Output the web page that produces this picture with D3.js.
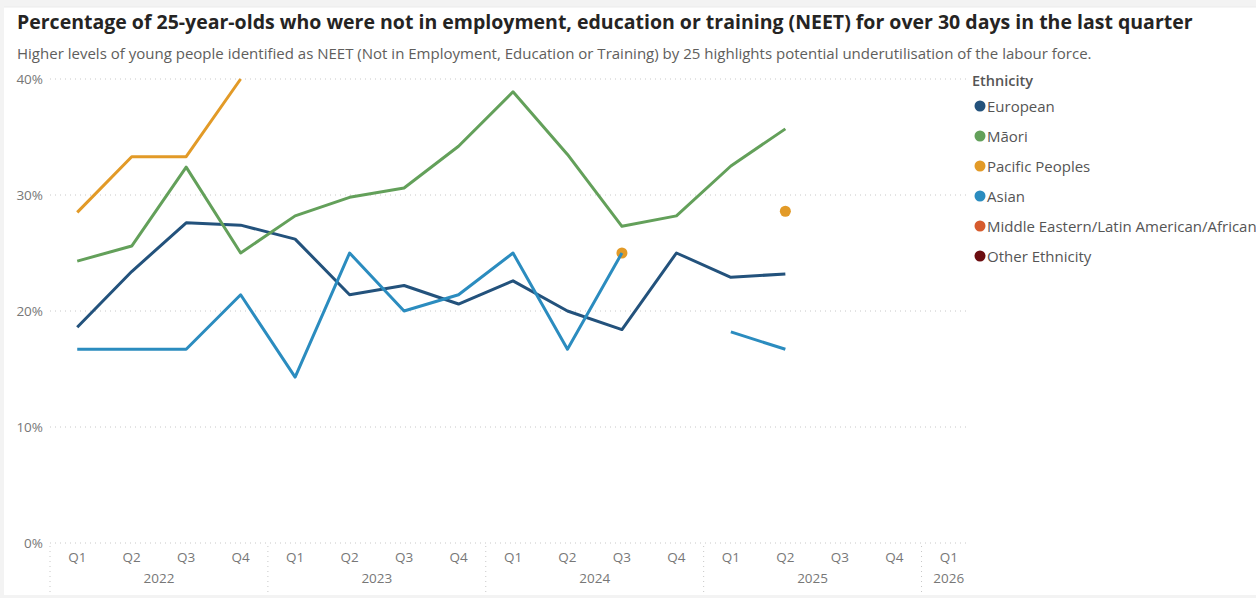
<!DOCTYPE html>
<html>
<head>
<meta charset="utf-8">
<script src="https://cdn.jsdelivr.net/npm/d3@7"></script>
<style>
  html, body { margin: 0; padding: 0; background: #f3f3f3; }
  svg { display: block; }
  text { font-family: "Segoe UI", "Open Sans", "Noto Sans", sans-serif; }
</style>
</head>
<body>
<svg id="chart" width="1256" height="598"></svg>
<script>
// Quarter labels along the x axis, grouped by year
const years = ["2022", "2023", "2024", "2025", "2026"];
const quartersPerYear = [["Q1","Q2","Q3","Q4"],["Q1","Q2","Q3","Q4"],["Q1","Q2","Q3","Q4"],["Q1","Q2","Q3","Q4"],["Q1"]];

// NEET percentage of 25-year-olds by ethnicity (null = no value reported)
const european = [18.6, 23.4, 27.6, 27.4, 26.2, 21.4, 22.2, 20.6, 22.6, 20.0, 18.4, 25.0, 22.9, 23.2, null, null, null];
const maori    = [24.3, 25.6, 32.4, 25.0, 28.2, 29.8, 30.6, 34.2, 38.9, 33.5, 27.3, 28.2, 32.5, 35.7, null, null, null];
const pacific  = [28.5, 33.3, 33.3, 40.0, null, null, null, null, null, null, 25.0, null, null, 28.6, null, null, null];
const asian    = [16.7, 16.7, 16.7, 21.4, 14.3, 25.0, 20.0, 21.4, 25.0, 16.7, 25.0, null, 18.2, 16.7, null, null, null];
const meela    = [null, null, null, null, null, null, null, null, null, null, null, null, null, null, null, null, null];
const other    = [null, null, null, null, null, null, null, null, null, null, null, null, null, null, null, null, null];

const seriesNames = ["European", "Māori", "Pacific Peoples", "Asian", "Middle Eastern/Latin American/African", "Other Ethnicity"];
const seriesColors = ["#23527c", "#63a05a", "#e29a27", "#2b8cbf", "#d65b2d", "#6b0d10"];
const seriesValues = [european, maori, pacific, asian, meela, other];

const yTicks = [0, 10, 20, 30, 40];

const titleText = "Percentage of 25-year-olds who were not in employment, education or training (NEET) for over 30 days in the last quarter";
const subtitleText = "Higher levels of young people identified as NEET (Not in Employment, Education or Training) by 25 highlights potential underutilisation of the labour force.";

// Build period keys
const periods = [];
years.forEach((y, i) => quartersPerYear[i].forEach(q => periods.push({ key: y + " " + q, year: y, q })));

const svg = d3.select("#chart");

// white card
svg.append("rect").attr("x", 4).attr("y", 7).attr("width", 1252).attr("height", 588).attr("fill", "#fff");
svg.append("line").attr("x1", 4).attr("x2", 1256).attr("y1", 7).attr("y2", 7).attr("stroke", "#ebebeb");

// Fit a text element to a target width by adjusting its font size
function fitWidth(sel, target) {
  const w = sel.node().getComputedTextLength();
  const fs = +sel.attr("font-size");
  sel.attr("font-size", fs * target / w);
}

// Title & subtitle
const title = svg.append("text").attr("x", 17).attr("y", 29)
  .attr("font-size", 19).attr("font-weight", 700).attr("fill", "#252423")
  .text(titleText);
const subtitle = svg.append("text").attr("x", 17).attr("y", 59)
  .attr("font-size", 14).attr("fill", "#605e5c")
  .text(subtitleText);
fitWidth(title, 1176);
fitWidth(subtitle, 1076);

const x = d3.scaleBand().domain(periods.map(p => p.key)).range([50, 976]).paddingInner(0).paddingOuter(0);
const cx = k => x(k) + x.bandwidth() / 2;
const y = d3.scaleLinear().domain([0, 40]).range([543, 79]);

const gridColor = "#c8c8c8";
const axisFont = "'Segoe UI','Open Sans',sans-serif";

// Horizontal gridlines
svg.append("g").selectAll("line").data(yTicks).join("line")
  .attr("x1", 50).attr("x2", 970)
  .attr("y1", d => y(d)).attr("y2", d => y(d))
  .attr("stroke", gridColor).attr("stroke-width", 1)
  .attr("stroke-dasharray", "1,4");

// Y axis labels
const yAxis = d3.axisLeft(y).tickValues(yTicks).tickFormat(d => d + "%").tickSize(0).tickPadding(0);
const yg = svg.append("g").attr("transform", "translate(43,0)").call(yAxis);
yg.select(".domain").remove();
yg.selectAll("text").attr("font-size", 13.5).attr("fill", "#777").attr("font-family", axisFont);

// X axis: quarter labels
const xAxis = d3.axisBottom(x).tickFormat(k => k.split(" ")[1]).tickSize(0).tickPadding(0);
const xg = svg.append("g").attr("transform", "translate(0,552)").call(xAxis);
xg.select(".domain").remove();
xg.selectAll("text").attr("font-size", 13.5).attr("fill", "#777").attr("dy", "0.71em").attr("font-family", axisFont);

// Year labels and year separators
years.forEach((yr) => {
  const ks = periods.filter(p => p.year === yr).map(p => p.key);
  const left = x(ks[0]);
  const right = x(ks[ks.length - 1]) + x.bandwidth();
  const mid = ks.length > 1 ? (left + right) / 2 : cx(ks[0]);
  svg.append("text").attr("x", mid).attr("y", 583).attr("text-anchor", "middle")
    .attr("font-size", 13.5).attr("fill", "#777").text(yr);
  svg.append("line").attr("x1", left).attr("x2", left).attr("y1", 546).attr("y2", 592)
    .attr("stroke", gridColor).attr("stroke-dasharray", "1,4");
});

// Lines
const line = d3.line()
  .defined(d => d.v != null)
  .x(d => cx(d.k))
  .y(d => y(d.v));

seriesValues.forEach((vals, si) => {
  const pts = vals.map((v, i) => ({ k: periods[i].key, v }));
  svg.append("path").datum(pts)
    .attr("fill", "none")
    .attr("stroke", seriesColors[si])
    .attr("stroke-width", 3)
    .attr("stroke-linejoin", "round")
    .attr("d", line);
  // isolated points shown as markers
  const isolated = pts.filter((p, i) => p.v != null &&
    (i === 0 || vals[i - 1] == null) && (i === vals.length - 1 || vals[i + 1] == null));
  svg.selectAll(null).data(isolated).join("circle")
    .attr("cx", d => cx(d.k)).attr("cy", d => y(d.v)).attr("r", 5.5)
    .attr("fill", seriesColors[si]);
});

// Legend
const lg = svg.append("g");
lg.append("text").attr("x", 972).attr("y", 86).attr("font-size", 14.5).attr("font-weight", 600)
  .attr("fill", "#555").text("Ethnicity");
seriesNames.forEach((name, i) => {
  const yy = 106 + i * 30;
  lg.append("circle").attr("cx", 980).attr("cy", yy).attr("r", 5.5).attr("fill", seriesColors[i]);
  const t = lg.append("text").attr("x", 987).attr("y", yy + 5.5).attr("font-size", 15).attr("fill", "#555").text(name);
});
</script>
</body>
</html>
